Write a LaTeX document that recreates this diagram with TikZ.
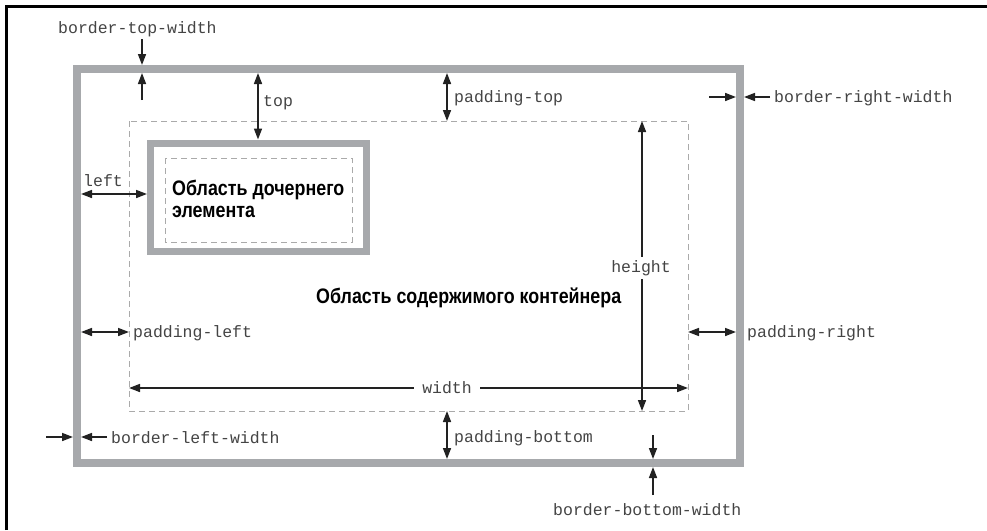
\documentclass[tikz,border=0pt]{standalone}
\usepackage{fontspec}
\setmainfont{Liberation Sans}
\newfontfamily\labelfont{Liberation Mono}
\newfontfamily\boldcond{Liberation Sans}[FakeStretch=0.85]
\usetikzlibrary{arrows.meta}
\definecolor{boxgrey}{HTML}{A7A9AC}
\definecolor{dashgrey}{HTML}{AAAAAA}
\definecolor{ink}{HTML}{222222}
\definecolor{labelink}{HTML}{444444}
\tikzset{
  greybox/.style={draw=boxgrey, line width=8pt},
  childbox/.style={draw=boxgrey, line width=7pt},
  dashbox/.style={draw=dashgrey, line width=1pt, dash pattern=on 6pt off 4pt},
  frame/.style={draw=black, line width=3pt},
  dimarrow/.style={draw=ink, line width=1.6pt, {Triangle[length=11pt,width=8pt]}-{Triangle[length=11pt,width=8pt]}},
  ptr/.style={draw=ink, line width=1.6pt, -{Triangle[length=11pt,width=8pt]}},
  lbl/.style={font=\labelfont\fontsize{16.5}{18}\selectfont, text=labelink, inner sep=0pt},
  title/.style={font=\boldcond\bfseries\fontsize{21}{22}\selectfont, text=black, inner sep=0pt},
}
\begin{document}
\begin{tikzpicture}[x=1pt,y=-1pt]
\useasboundingbox (0,0) rectangle (987,530);
% frame
\coordinate (fBL) at (6.5,530);
\coordinate (fTL) at (6.5,6);
\coordinate (fTR) at (987,6);
\draw[frame] (fBL) -- (fTL) -- (fTR);
% boxes
\draw[greybox] (77,69) rectangle (740,463);
\draw[dashbox] (129,121) rectangle (688,411);
\draw[childbox] (150.5,143) rectangle (366.5,251.5);
\draw[dashbox] (165,158) rectangle (352,242);
% texts
\node[title, anchor=base west] (child1) at (172,195) {Область дочернего};
\node[title, anchor=base west] (child2) at (172,217) {элемента};
\node[title, anchor=base west] (content) at (316,303) {Область содержимого контейнера};
% border-top-width
\coordinate (btA) at (142,39);  \coordinate (btB) at (142,65);
\coordinate (btC) at (142,100); \coordinate (btD) at (142,73);
\draw[ptr] (btA) -- (btB);
\draw[ptr] (btC) -- (btD);
\node[lbl, anchor=base west] (btl) at (58,33) {border-top-width};
% top
\coordinate (tA) at (258,73); \coordinate (tB) at (258,139.5);
\draw[dimarrow] (tA) -- (tB);
\node[lbl, anchor=base west] (tl) at (263,106) {top};
% padding-top
\coordinate (ptA) at (447,73); \coordinate (ptB) at (447,121);
\draw[dimarrow] (ptA) -- (ptB);
\node[lbl, anchor=base west] (ptl) at (454,102.5) {padding-top};
% border-right-width
\coordinate (brA) at (709,97); \coordinate (brB) at (736,97);
\coordinate (brC) at (770,97); \coordinate (brD) at (744,97);
\draw[ptr] (brA) -- (brB);
\draw[ptr] (brC) -- (brD);
\node[lbl, anchor=base west] (brl) at (774,102.5) {border-right-width};
% height
\coordinate (hA) at (642,121); \coordinate (hB) at (642,411);
\draw[dimarrow] (hA) -- (hB);
\node[lbl, fill=white, inner xsep=2pt, inner ysep=3pt] (hl) at (641,268) {height};
% left
\coordinate (lA) at (81,194); \coordinate (lB) at (147,194);
\draw[dimarrow] (lA) -- (lB);
\node[lbl, anchor=base west] (ll) at (83,186) {left};
% padding-left
\coordinate (plA) at (81,332); \coordinate (plB) at (129,332);
\draw[dimarrow] (plA) -- (plB);
\node[lbl, anchor=base west] (pll) at (133,337) {padding-left};
% width
\coordinate (wA) at (129,388); \coordinate (wB) at (688,388);
\draw[dimarrow] (wA) -- (wB);
\node[lbl, fill=white, inner xsep=8pt, inner ysep=1pt] (wl) at (447,388) {width};
% padding-right
\coordinate (prA) at (688,332); \coordinate (prB) at (736,332);
\draw[dimarrow] (prA) -- (prB);
\node[lbl, anchor=base west] (prl) at (747,337) {padding-right};
% border-left-width
\coordinate (blA) at (46,437); \coordinate (blB) at (73,437);
\coordinate (blC) at (107,437); \coordinate (blD) at (81,437);
\draw[ptr] (blA) -- (blB);
\draw[ptr] (blC) -- (blD);
\node[lbl, anchor=base west] (bll) at (111,443) {border-left-width};
% padding-bottom
\coordinate (pbA) at (447,411); \coordinate (pbB) at (447,459);
\draw[dimarrow] (pbA) -- (pbB);
\node[lbl, anchor=base west] (pbl) at (454,442) {padding-bottom};
% border-bottom-width
\coordinate (bbA) at (653,435); \coordinate (bbB) at (653,459);
\coordinate (bbC) at (653,495); \coordinate (bbD) at (653,467);
\draw[ptr] (bbA) -- (bbB);
\draw[ptr] (bbC) -- (bbD);
\node[lbl, anchor=base west] (bbl) at (553,515) {border-bottom-width};
\end{tikzpicture}
\end{document}
